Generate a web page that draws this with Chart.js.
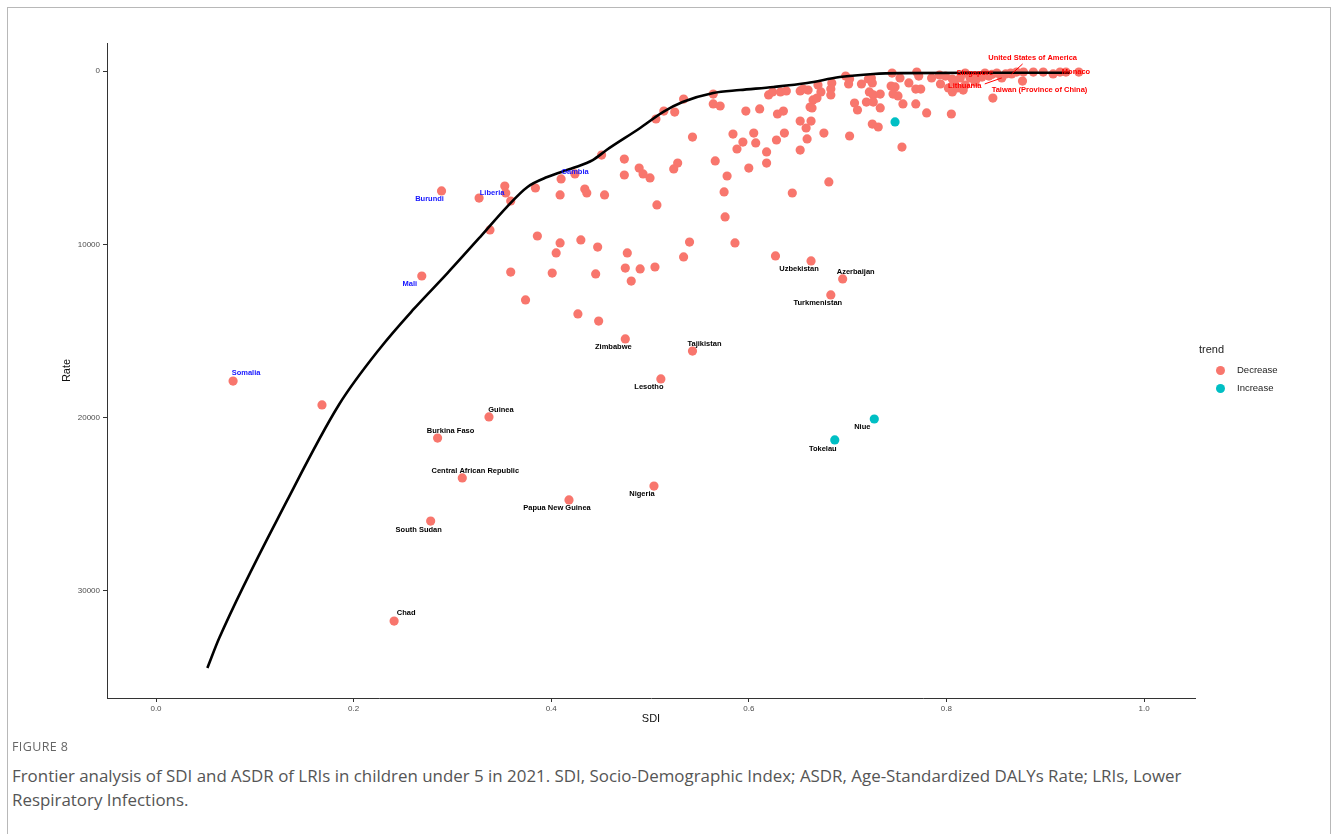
<!DOCTYPE html>
<html>
<head>
<meta charset="utf-8">
<script src="https://cdn.jsdelivr.net/npm/chart.js@4.4.1/dist/chart.umd.min.js"></script>
<style>
  body { margin: 0; background: #fff; width: 1331px; height: 834px; overflow: hidden; position: relative; font-family: "Liberation Sans", Arial, sans-serif; }
  #frame { position: absolute; left: 7px; top: 7px; width: 1322px; height: 860px; border: 1px solid #b8b8b8; }
  #wrap { position: absolute; left: 0; top: 0; width: 1331px; height: 740px; }
  #legend { position: absolute; left: 1199px; top: 341px; color: #222; }
  #legend .ttl { font-size: 11px; line-height: 16px; margin-bottom: 4px; }
  #legend .item { position: relative; height: 18px; font-size: 9.5px; line-height: 18px; padding-left: 38px; }
  #legend .dot { position: absolute; left: 17px; top: 4.5px; width: 9px; height: 9px; border-radius: 50%; }
  #figno { position: absolute; left: 12px; top: 738px; font-family: "Open Sans", sans-serif; font-size: 12.5px; color: #666; letter-spacing: 0.4px; }
  #caption { position: absolute; left: 12px; top: 764px; font-family: "Open Sans", sans-serif; font-size: 16.9px; line-height: 24px; color: #555; white-space: nowrap; }
</style>
</head>
<body>
<div id="frame"></div>
<div id="wrap"><canvas id="frontier" width="1331" height="740"></canvas></div>
<div id="legend">
  <div class="ttl">trend</div>
  <div class="item"><span class="dot" style="background:#F8766D"></span>Decrease</div>
  <div class="item"><span class="dot" style="background:#00BFC4"></span>Increase</div>
</div>
<div id="figno">FIGURE 8</div>
<div id="caption">Frontier analysis of SDI and ASDR of LRIs in children under 5 in 2021. SDI, Socio-Demographic Index; ASDR, Age-Standardized DALYs Rate; LRIs, Lower<br>Respiratory Infections.</div>
<script>
// frontier line (SDI vs rate)
const frontierSdi  = [0.052, 0.064, 0.133, 0.185, 0.227, 0.260, 0.295, 0.328, 0.355, 0.376, 0.396, 0.422, 0.442, 0.456, 0.490, 0.513, 0.533, 0.564, 0.591, 0.625, 0.659, 0.692, 0.726, 0.753, 0.854, 0.925];
const frontierRate = [34450, 32720, 24750, 19270, 15980, 13790, 11660, 9580, 7850, 6690, 6120, 5600, 5140, 4560, 3290, 2370, 1790, 1270, 1100, 920, 690, 350, 170, 120, 100, 100];

// unlabeled countries, trend = Decrease
const decSdi = [
  0.168, 0.338, 0.353, 0.354, 0.359, 0.384, 0.410, 0.409, 0.434, 0.436, 0.454, 0.451, 0.474, 0.474, 0.489, 0.493, 0.500, 0.507, 0.528, 0.524,
  0.386, 0.409, 0.405, 0.430, 0.447, 0.477, 0.475, 0.490, 0.505, 0.481, 0.445, 0.401, 0.359, 0.374, 0.427, 0.448, 0.540, 0.534, 0.506, 0.514,
  0.525, 0.534, 0.543, 0.564, 0.564, 0.571, 0.597, 0.611, 0.620, 0.624, 0.632, 0.638, 0.652, 0.655, 0.660, 0.670, 0.673, 0.684, 0.683, 0.683,
  0.698, 0.702, 0.701, 0.714, 0.721, 0.724, 0.725, 0.722, 0.726, 0.733, 0.745, 0.744, 0.748, 0.746, 0.751, 0.753, 0.762, 0.770, 0.772, 0.769,
  0.774, 0.785, 0.793, 0.799, 0.806, 0.756, 0.769, 0.780, 0.805, 0.707, 0.710, 0.719, 0.726, 0.733, 0.665, 0.669, 0.662, 0.664, 0.652, 0.663,
  0.658, 0.659, 0.676, 0.702, 0.725, 0.731, 0.755, 0.629, 0.635, 0.584, 0.594, 0.605, 0.607, 0.588, 0.628, 0.636, 0.618, 0.618, 0.652, 0.600,
  0.566, 0.578, 0.575, 0.576, 0.586, 0.627, 0.681, 0.644, 0.806, 0.808, 0.811, 0.814, 0.819, 0.824, 0.831, 0.836, 0.839, 0.843, 0.846, 0.860,
  0.865, 0.871, 0.878, 0.888, 0.898, 0.908, 0.915, 0.847, 0.819, 0.829, 0.802, 0.794, 0.817, 0.934
];
const decRate = [
  19270, 9170, 6640, 7040, 7500, 6750, 6230, 7150, 6810, 7040, 7150, 4850, 5080, 6000, 5600, 5940, 6170, 7730, 5310, 5650,
  9520, 9920, 10500, 9750, 10160, 10500, 11370, 11420, 11310, 12120, 11710, 11660, 11600, 13210, 14020, 14430, 9870, 10730, 2770, 2310,
  2370, 1620, 3810, 1330, 1900, 2020, 2310, 2190, 1380, 1210, 1210, 1150, 1150, 1040, 1100, 810, 1210, 690, 1040, 1380,
  290, 460, 750, 750, 460, 400, 690, 1210, 1380, 1330, 120, 870, 920, 1330, 1440, 400, 690, 60, 290, 1040,
  1040, 400, 230, 290, 1210, 1900, 1900, 2420, 2480, 1850, 2250, 1790, 1790, 2130, 1670, 1560, 2080, 2130, 2890, 2890,
  3290, 3920, 3580, 3750, 3060, 3230, 4390, 2480, 2310, 3640, 4100, 3580, 4150, 4500, 3980, 3580, 4670, 5310, 4560, 5600,
  5190, 6060, 6980, 8420, 9920, 10670, 6400, 7040, 460, 630, 980, 400, 120, 400, 400, 350, 120, 290, 200, 170,
  120, 60, 60, 60, 60, 170, 60, 1560, 810, 630, 980, 750, 1100, 60
];

// unlabeled countries, trend = Increase
const incSdi  = [0.748];
const incRate = [2940];

// labeled countries
const labelNames = ['Somalia', 'Mali', 'Burundi', 'Liberia', 'Gambia', 'Chad', 'South Sudan', 'Central African Republic', 'Burkina Faso', 'Guinea',
  'Papua New Guinea', 'Nigeria', 'Lesotho', 'Tajikistan', 'Zimbabwe', 'Uzbekistan', 'Azerbaijan', 'Turkmenistan', 'Tokelau', 'Niue',
  'United States of America', 'Singapore', 'Monaco', 'Lithuania', 'Taiwan (Province of China)'];
const labelSdi  = [0.078, 0.269, 0.289, 0.327, 0.424, 0.241, 0.278, 0.310, 0.285, 0.337, 0.418, 0.504, 0.511, 0.543, 0.475, 0.663, 0.695, 0.683, 0.687, 0.727, 0.866, 0.851, 0.921, 0.856, 0.877];
const labelRate = [17890, 11830, 6920, 7330, 5940, 31740, 25970, 23480, 21180, 19960, 24750, 23950, 17770, 16160, 15460, 10960, 12000, 12920, 21290, 20080, 170, 120, 60, 400, 580];
const labelTrend = ['Decrease', 'Decrease', 'Decrease', 'Decrease', 'Decrease', 'Decrease', 'Decrease', 'Decrease', 'Decrease', 'Decrease',
  'Decrease', 'Decrease', 'Decrease', 'Decrease', 'Decrease', 'Decrease', 'Decrease', 'Decrease', 'Increase', 'Increase',
  'Decrease', 'Decrease', 'Decrease', 'Decrease', 'Decrease'];

const xTicks = [0, 0.2, 0.4, 0.6, 0.8, 1.0];
const yTicks = [0, 10000, 20000, 30000];

// label placement (pixel offsets of the text centre from the point) and colours
const labelOffsets = {
  'Somalia': [13, -8], 'Mali': [-12, 8], 'Burundi': [-12, 8], 'Liberia': [13, -5], 'Gambia': [0, -2],
  'Chad': [12, -8], 'South Sudan': [-12, 9], 'Central African Republic': [13, -7], 'Burkina Faso': [13, -7], 'Guinea': [12, -7],
  'Papua New Guinea': [-12, 8], 'Nigeria': [-12, 8], 'Lesotho': [-12, 8], 'Tajikistan': [12, -7], 'Zimbabwe': [-12, 8],
  'Uzbekistan': [-12, 8], 'Azerbaijan': [13, -7], 'Turkmenistan': [-13, 8], 'Tokelau': [-12, 9], 'Niue': [-12, 8],
  'United States of America': [21, -16], 'Singapore': [-22, 0], 'Monaco': [10, 0], 'Lithuania': [-37, 8], 'Taiwan (Province of China)': [17, 9]
};
const leaderEnds = { 'United States of America': [11, -10], 'Lithuania': [-17, 6] };
const blueNames = ['Somalia', 'Mali', 'Burundi', 'Liberia', 'Gambia'];
const redNames = ['United States of America', 'Singapore', 'Monaco', 'Lithuania', 'Taiwan (Province of China)'];

const pts = (xs, ys) => xs.map((v, i) => ({ x: v, y: ys[i] }));
const decPoints = pts(decSdi, decRate);
const incPoints = pts(incSdi, incRate);
labelNames.forEach((n, i) => {
  (labelTrend[i] === 'Increase' ? incPoints : decPoints).push({ x: labelSdi[i], y: labelRate[i] });
});

const countryLabels = {
  id: 'countryLabels',
  afterDatasetsDraw(chart) {
    const { ctx, scales: { x, y } } = chart;
    ctx.save();
    ctx.font = 'bold 7.5px "Liberation Sans", Arial, sans-serif';
    ctx.textAlign = 'center';
    ctx.textBaseline = 'middle';
    labelNames.forEach((name, i) => {
      const px = x.getPixelForValue(labelSdi[i]);
      const py = y.getPixelForValue(labelRate[i]);
      const off = labelOffsets[name];
      let color = '#000';
      if (blueNames.includes(name)) color = '#1515ff';
      if (redNames.includes(name)) color = '#ff0000';
      if (leaderEnds[name]) {
        ctx.strokeStyle = color;
        ctx.lineWidth = 1;
        ctx.beginPath();
        ctx.moveTo(px, py);
        ctx.lineTo(px + leaderEnds[name][0], py + leaderEnds[name][1]);
        ctx.stroke();
      }
      ctx.fillStyle = color;
      ctx.fillText(name, px + off[0], py + off[1]);
    });
    ctx.restore();
  }
};

new Chart(document.getElementById('frontier'), {
  type: 'scatter',
  data: {
    datasets: [
      {
        type: 'line',
        label: 'frontier',
        data: pts(frontierSdi, frontierRate),
        borderColor: '#000',
        borderWidth: 2.6,
        pointRadius: 0,
        cubicInterpolationMode: 'monotone',
        fill: false,
        order: 0
      },
      { label: 'Decrease', data: decPoints, backgroundColor: '#F8766D', borderWidth: 0, pointRadius: 4.6, order: 1 },
      { label: 'Increase', data: incPoints, backgroundColor: '#00BFC4', borderWidth: 0, pointRadius: 4.6, order: 1 }
    ]
  },
  options: {
    responsive: false,
    animation: false,
    layout: { padding: { left: 56, top: 43, right: 136, bottom: 10 } },
    plugins: { legend: { display: false }, tooltip: { enabled: false } },
    scales: {
      x: {
        type: 'linear',
        min: -0.0496,
        max: 1.0516,
        afterBuildTicks: (s) => { s.ticks = xTicks.map(v => ({ value: v })); },
        afterFit: (s) => { s.height = 32; },
        grid: { display: true, drawOnChartArea: false, drawTicks: true, tickLength: 4, color: '#333' },
        border: { display: true, color: '#333', width: 1 },
        ticks: { color: '#4d4d4d', font: { size: 8 }, padding: 2, maxRotation: 0, callback: (v) => Number(v).toFixed(1) },
        title: { display: true, text: 'SDI', color: '#111', font: { size: 11 }, padding: { top: 0, bottom: 4 } }
      },
      y: {
        type: 'linear',
        reverse: true,
        min: -1616,
        max: 36180,
        afterBuildTicks: (s) => { s.ticks = yTicks.map(v => ({ value: v })); },
        afterFit: (s) => { s.width = 51; },
        grid: { display: true, drawOnChartArea: false, drawTicks: true, tickLength: 4, color: '#333' },
        border: { display: true, color: '#333', width: 1 },
        ticks: { color: '#4d4d4d', font: { size: 8 }, padding: 3, callback: (v) => String(v) },
        title: { display: true, text: 'Rate', color: '#111', font: { size: 11 }, padding: { top: 4, bottom: 0 } }
      }
    }
  },
  plugins: [countryLabels]
});
</script>
</body>
</html>
